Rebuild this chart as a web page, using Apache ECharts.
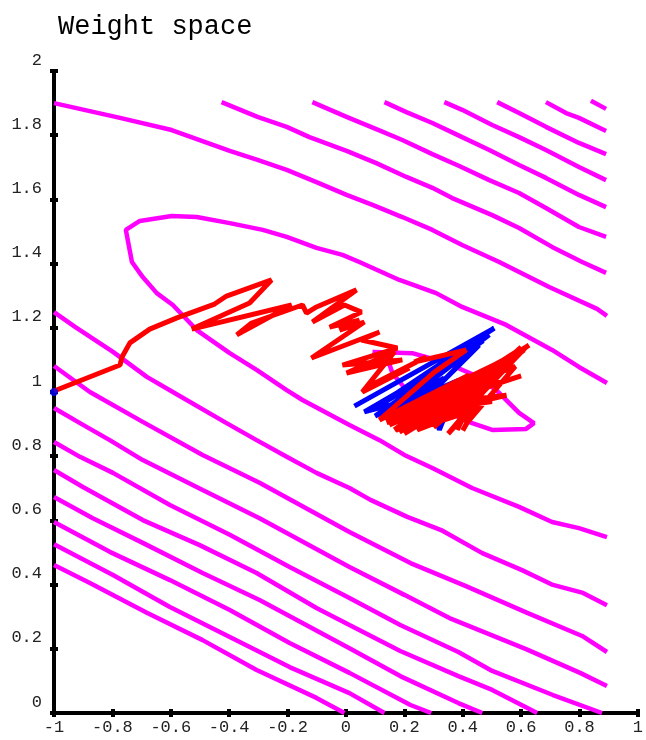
<!DOCTYPE html>
<html>
<head>
<meta charset="utf-8">
<script src="https://cdn.jsdelivr.net/npm/echarts@6/dist/echarts.min.js"></script>
<style>html,body{margin:0;padding:0;background:#fff;}#chart{width:646px;height:740px;}</style>
</head>
<body>
<div id="chart"></div>
<script>
// ---- Data (weight space coordinates) ----
const titleText = "Weight space";
const xTickValues = [-1, -0.8, -0.6, -0.4, -0.2, 0, 0.2, 0.4, 0.6, 0.8, 1];
const yTickValues = [0, 0.2, 0.4, 0.6, 0.8, 1, 1.2, 1.4, 1.6, 1.8, 2];

// error-surface contours (upper right family)
const contourT7 = [[0.839,1.907],[0.891,1.882]];
const contourT6 = [[0.685,1.903],[0.754,1.869],[0.798,1.854],[0.891,1.813]];
const contourT5 = [[0.518,1.903],[0.593,1.869],[0.685,1.826],[0.798,1.776],[0.891,1.741]];
const contourT4 = [[0.337,1.903],[0.398,1.879],[0.501,1.832],[0.593,1.794],[0.685,1.754],[0.798,1.701],[0.891,1.660]];
const contourT3 = [[0.132,1.903],[0.207,1.872],[0.296,1.838],[0.398,1.794],[0.491,1.754],[0.593,1.707],[0.685,1.667],[0.798,1.614],[0.891,1.576]];
const contourT2 = [[-0.115,1.903],[0.002,1.857],[0.104,1.819],[0.193,1.785],[0.296,1.741],[0.388,1.704],[0.491,1.660],[0.593,1.620],[0.685,1.573],[0.798,1.514],[0.891,1.483]];
const contourT1 = [[-0.426,1.903],[-0.303,1.857],[-0.203,1.826],[-0.125,1.794],[0.002,1.751],[0.104,1.713],[0.207,1.670],[0.296,1.636],[0.364,1.604],[0.501,1.551],[0.593,1.511],[0.706,1.452],[0.809,1.405],[0.891,1.371]];
const contourL0 = [[-1,1.900],[-0.774,1.854],[-0.597,1.816],[-0.501,1.785],[-0.398,1.751],[-0.303,1.723],[-0.203,1.692],[-0.101,1.654],[0.002,1.614],[0.091,1.583],[0.193,1.545],[0.296,1.505],[0.398,1.458],[0.525,1.405],[0.696,1.327],[0.860,1.259],[0.894,1.237]];
// the open loop round the valley
const contourLoop = [[0.894,1.028],[0.798,1.078],[0.706,1.131],[0.593,1.187],[0.549,1.209],[0.398,1.265],[0.309,1.308],[0.183,1.349],[0.046,1.405],[-0.012,1.427],[-0.101,1.449],[-0.203,1.483],[-0.285,1.505],[-0.398,1.526],[-0.511,1.545],[-0.597,1.548],[-0.706,1.533],[-0.754,1.505],[-0.733,1.405],[-0.696,1.358],[-0.648,1.308],[-0.593,1.271],[-0.511,1.193],[-0.398,1.121],[-0.306,1.069],[-0.203,1.006],[-0.149,0.975],[0.012,0.897],[0.115,0.850],[0.200,0.804],[0.296,0.763],[0.432,0.701],[0.593,0.642],[0.706,0.595],[0.798,0.576],[0.894,0.548]];
// small closed contour at the minimum
const contourMin = [[0.091,1.125],[0.227,1.121],[0.337,1.093],[0.439,1.053],[0.515,1.006],[0.593,0.935],[0.644,0.903],[0.617,0.885],[0.501,0.882],[0.432,0.903],[0.320,0.950],[0.207,1.006],[0.159,1.059],[0.138,1.115],[0.091,1.125]];
// lower left family
const contourL2 = [[-1,1.249],[-0.928,1.203],[-0.798,1.125],[-0.682,1.047],[-0.593,1.000],[-0.409,0.903],[-0.306,0.850],[-0.203,0.798],[-0.101,0.748],[0.012,0.701],[0.084,0.664],[0.210,0.611],[0.326,0.570],[0.467,0.498],[0.603,0.445],[0.709,0.399],[0.812,0.374],[0.894,0.336]];
const contourL3 = [[-1,1.081],[-0.877,1.000],[-0.696,0.907],[-0.491,0.804],[-0.296,0.717],[0.012,0.564],[0.221,0.467],[0.409,0.396],[0.621,0.312],[0.809,0.240],[0.894,0.190]];
const contourL4 = [[-1,0.950],[-0.911,0.903],[-0.809,0.850],[-0.696,0.788],[-0.491,0.695],[-0.296,0.607],[0.012,0.455],[0.200,0.368],[0.361,0.293],[0.617,0.199],[0.802,0.125],[0.894,0.084]];
const contourL5 = [[-1,0.844],[-0.911,0.798],[-0.798,0.748],[-0.603,0.648],[-0.398,0.555],[-0.193,0.455],[0.012,0.358],[0.186,0.274],[0.385,0.190],[0.501,0.131],[0.709,0.056],[0.877,0]];
const contourL6 = [[-1,0.757],[-0.901,0.704],[-0.696,0.601],[-0.501,0.523],[-0.306,0.436],[-0.101,0.327],[0.012,0.274],[0.186,0.193],[0.385,0.115],[0.501,0.072],[0.655,0]];
const contourL7 = [[-1,0.673],[-0.867,0.607],[-0.696,0.530],[-0.491,0.436],[-0.296,0.352],[0.012,0.202],[0.186,0.115],[0.385,0.031],[0.467,0]];
const contourL8 = [[-1,0.595],[-0.809,0.502],[-0.603,0.414],[-0.398,0.321],[-0.193,0.218],[0.012,0.125],[0.221,0.025],[0.292,0]];
const contourL9 = [[-1,0.526],[-0.798,0.430],[-0.603,0.330],[-0.398,0.237],[-0.193,0.143],[0.012,0.062],[0.132,0]];
const contourL10 = [[-1,0.461],[-0.877,0.405],[-0.682,0.312],[-0.491,0.227],[-0.306,0.134],[-0.101,0.047],[-0.005,0]];

// start point of learning
const startPoint = [[-1, 1.0]];

// blue trajectory (within the valley)
const blueTrajectory = [[0.029,0.956],[0.508,1.199],[0.344,1.100],[0.087,0.944],[0.422,1.125],[0.125,0.919],[0.337,1.044],[0.251,1.000],[0.166,0.960],[0.491,1.178],[0.320,1.062],[0.217,0.888],[0.371,1.012],[0.063,0.938],[0.456,1.146],[0.285,0.991],[0.320,0.882],[0.388,1.037],[0.100,0.925],[0.470,1.160],[0.240,1.030]];

// red trajectory
const redTrajectory = [[-1,1.003],[-0.774,1.084],[-0.767,1.109],[-0.740,1.153],[-0.672,1.196],[-0.579,1.231],[-0.450,1.274],[-0.409,1.299],[-0.255,1.349],[-0.330,1.277],[-0.528,1.196],[-0.186,1.271],[-0.374,1.178],[-0.323,1.215],[-0.149,1.271],[-0.135,1.246],[-0.101,1.265],[0.036,1.318],[-0.115,1.218],[-0.005,1.271],[0.053,1.249],[-0.056,1.202],[0.046,1.224],[-0.022,1.193],[0.063,1.218],[-0.118,1.106],[0.115,1.187],[0.053,1.162],[0.176,1.137],[-0.012,1.084],[0.193,1.100],[0.002,1.059],[0.166,1.125],[0.056,1.000],[0.217,1.075],[0.087,1.022],[0.275,1.109],[0.234,1.093],[0.412,1.131],[0.303,1.062],
[0.115,0.913],[0.422,1.053],[0.166,0.882],[0.593,1.131],[0.251,0.928],[0.627,1.146],[0.183,0.875],[0.491,1.062],[0.337,0.960],[0.542,1.100],[0.132,0.919],[0.456,1.022],[0.381,0.882],[0.422,0.975],[0.217,0.897],[0.610,1.131],[0.303,0.913],[0.525,1.037],[0.371,0.950],[0.576,1.115],[0.149,0.897],[0.388,0.991],[0.439,0.944],[0.337,0.913],[0.552,1.093],[0.285,0.938],[0.508,1.075],[0.244,0.882],[0.405,0.938],[0.617,1.140],[0.320,0.975],[0.474,1.037],[0.190,0.888],[0.422,1.000],[0.361,0.919],[0.566,1.106],[0.268,0.907],[0.450,0.981],[0.388,0.960],
[0.140,0.905],[0.560,1.110],[0.200,0.870],[0.470,1.020],[0.300,0.890],[0.600,1.140],[0.350,0.870],[0.440,0.960],[0.380,0.900],[0.430,0.930],[0.400,0.880],[0.450,0.960],[0.250,0.900],[0.500,1.050],[0.170,0.880],[0.580,1.120],[0.360,0.940],[0.410,0.960],
[0.550,0.990],[0.280,0.960],[0.600,1.050],[0.200,0.930],[0.500,0.970],[0.330,0.990],[0.580,1.080],[0.420,0.910]];

const contours = [contourT7, contourT6, contourT5, contourT4, contourT3, contourT2, contourT1, contourL0, contourLoop, contourMin, contourL2, contourL3, contourL4, contourL5, contourL6, contourL7, contourL8, contourL9, contourL10];

// ---- Chart ----
const chart = echarts.init(document.getElementById('chart'), null, {renderer: 'canvas'});
const FONT = "'Liberation Mono', 'DejaVu Sans Mono', monospace";
const lineSeries = (data, color, width, z) => ({
  type: 'line', data: data, showSymbol: false, symbol: 'none', animation: false,
  xAxisIndex: 0, yAxisIndex: 0, z: z, silent: true,
  lineStyle: {color: color, width: width, cap: 'butt', join: 'bevel'}
});
const tickStyle = {lineStyle: {color: '#000', width: 4}};
const series = contours.map(c => lineSeries(c, '#ff00ff', 4.5, 2));
series.push(lineSeries(blueTrajectory, '#0000ff', 5, 3));
series.push(lineSeries(redTrajectory, '#ff0000', 5, 4));
series.push({type: 'scatter', data: startPoint, symbolSize: 8, itemStyle: {color: '#0000ff'}, z: 5, animation: false, silent: true});

chart.setOption({
  backgroundColor: '#ffffff',
  animation: false,
  title: {text: titleText, left: 53, top: 8, textStyle: {fontFamily: FONT, fontSize: 27, fontWeight: 'normal', color: '#000'}},
  grid: {left: 54, right: 7, top: 71, bottom: 27, containLabel: false},
  xAxis: [
    {type: 'value', min: xTickValues[0], max: xTickValues[xTickValues.length-1], interval: 0.2, position: 'bottom',
     axisLine: {show: true, onZero: false, lineStyle: {color: '#000', width: 4}},
     axisTick: Object.assign({show: true, inside: false, length: 4}, tickStyle),
     axisLabel: {show: true, margin: 6, fontFamily: FONT, fontSize: 17, color: '#222', showMinLabel: true, showMaxLabel: true, interval: 0},
     splitLine: {show: false}},
    {type: 'value', min: xTickValues[0], max: xTickValues[xTickValues.length-1], interval: 0.2, position: 'bottom',
     axisLine: {show: false, onZero: false}, axisTick: Object.assign({show: true, inside: true, length: 4}, tickStyle),
     axisLabel: {show: false}, splitLine: {show: false}}
  ],
  yAxis: [
    {type: 'value', min: yTickValues[0], max: yTickValues[yTickValues.length-1], interval: 0.2, position: 'left',
     axisLine: {show: true, onZero: false, lineStyle: {color: '#000', width: 4}},
     axisTick: Object.assign({show: true, inside: false, length: 4}, tickStyle),
     axisLabel: {show: true, margin: 12, fontFamily: FONT, fontSize: 17, color: '#222', showMinLabel: true, showMaxLabel: true, verticalAlign: 'bottom', lineHeight: 22},
     splitLine: {show: false}},
    {type: 'value', min: yTickValues[0], max: yTickValues[yTickValues.length-1], interval: 0.2, position: 'left',
     axisLine: {show: false, onZero: false}, axisTick: Object.assign({show: true, inside: true, length: 4}, tickStyle),
     axisLabel: {show: false}, splitLine: {show: false}}
  ],
  series: series
});
</script>
</body>
</html>
